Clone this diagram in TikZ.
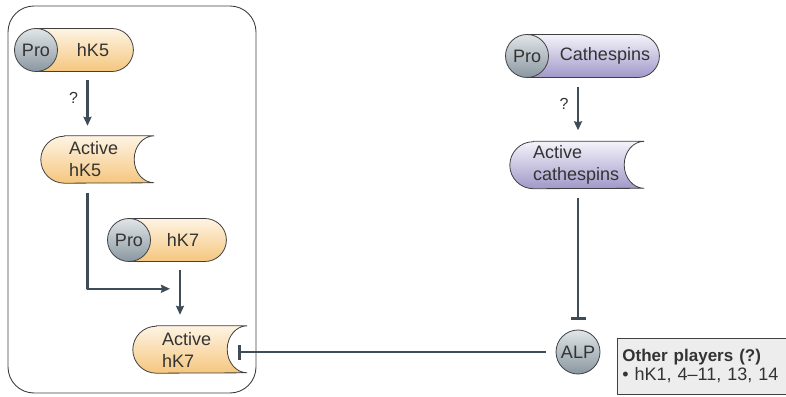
\documentclass[tikz,border=0pt]{standalone}
\usepackage{fontspec}
\setmainfont{Liberation Sans}
\usetikzlibrary{arrows.meta,shapes.misc,calc,backgrounds}
\definecolor{ink}{HTML}{3D4C56}
\definecolor{rim}{HTML}{404040}
\definecolor{txt}{HTML}{333333}
\definecolor{orgtop}{HTML}{FEF4E4}
\definecolor{orgbot}{HTML}{F5C67E}
\definecolor{purtop}{HTML}{F5F3FA}
\definecolor{purbot}{HTML}{A098C9}
\definecolor{protop}{HTML}{E0E5E8}
\definecolor{probot}{HTML}{8A97A0}
\definecolor{boxfill}{HTML}{EDEDED}
% body of an active enzyme: round left end, hollow right end
\newcommand{\activebody}[3]{%
  \path[draw=rim,line width=0.8pt,top color=#2,bottom color=#3]
  ([xshift=23.5pt]#1.north west) -- (#1.north east)
  arc[start angle=90,end angle=270,x radius=20pt,y radius=23.5pt]
  -- ([xshift=23.5pt]#1.south west)
  arc[start angle=270,end angle=90,radius=23.5pt] -- cycle;}
\begin{document}
\begin{tikzpicture}[x=1pt,y=1pt,font=\fontsize{18}{22}\selectfont,line join=round]
	\tikzset{pro/.style={circle,draw=rim,line width=0.8pt,minimum size=43pt,inner sep=0pt,top color=protop,bottom color=probot,text=txt},
		pill/.style={rounded rectangle,rounded rectangle left arc=none,draw=rim,line width=0.8pt,minimum height=43pt,inner sep=0pt,anchor=west},
		active/.style={rectangle,minimum height=47pt,inner ysep=0pt,align=left,text=txt},
		qmark/.style={left=5pt,text=txt,font=\fontsize{16}{18}\selectfont},
		arr/.style={ink,line width=2.5pt,-{Stealth[length=9pt,width=8pt,inset=1pt]}},
		inh/.style={ink,line width=2.5pt,-{Bar[width=15pt,line width=2.5pt]}}}
	\useasboundingbox (0,0) rectangle (786,396);
	\draw[rim,line width=0.9pt,rounded corners=26pt] (8,3) rectangle (256,390);
	% pro-enzymes
	\node[pill,top color=orgtop,bottom color=orgbot,minimum width=97pt] (k5) at (36,346) {};
	\node[pro] (prok5) at (k5.west) {Pro};
	\node[text=txt] (tk5) at (93,346) {hK5};
	\node[pill,top color=orgtop,bottom color=orgbot,minimum width=97pt] (k7) at (129,156) {};
	\node[pro] (prok7) at (k7.west) {Pro};
	\node[text=txt] (tk7) at (183,156) {hK7};
	\node[pill,top color=purtop,bottom color=purbot,minimum width=132pt] (cath) at (527,340) {};
	\node[pro] (procath) at (cath.west) {Pro};
	\node[text=txt] (tcath) at (605,340) {Cathespins};
	% active forms
	\node[active,minimum width=113pt,inner xsep=28pt,text width=57pt] (ak5) at (97.5,236.5) {Active\\hK5};
	\node[active,minimum width=114pt,inner xsep=29pt,text width=56pt] (ak7) at (190,46.5) {Active\\hK7};
	\node[active,minimum width=134pt,inner xsep=23pt,text width=88pt] (acath) at (577,231) {Active\\cathespins};
	\begin{scope}[on background layer]
		\activebody{ak5}{orgtop}{orgbot}
		\activebody{ak7}{orgtop}{orgbot}
		\activebody{acath}{purtop}{purbot}
	\end{scope}
	\node[pro,minimum size=44pt] (alp) at (578,44) {ALP};
	\node[draw=rim,fill=boxfill,line width=0.8pt,anchor=west,align=left,text width=175pt,inner xsep=5pt,inner ysep=4pt,minimum height=56pt,text=txt,font=\fontsize{18}{19}\selectfont] (other) at (617,30) {{\fontsize{17}{19}\selectfont\textbf{Other players (?)}}\\\textbullet\ hK1, 4–11, 13, 14};
	% connectors
	\draw[arr] ($(k5.south -| ak5.north)+(-10,-8)$) -- node[qmark,pos=0.4] (q5) {?} ($(ak5.north)+(-10,10)$);
	\coordinate (mix) at ($(ak7.north)+(-10,37)$);
	\draw[arr] ($(ak5.south)+(-10,-10)$) |- ($(mix)+(-10,0)$);
	\draw[arr] ($(k7.south -| ak7.north)+(-10,-8)$) -- ($(ak7.north)+(-10,11)$);
	\draw[arr] ($(cath.south -| alp.north)+(0,-9)$) -- node[qmark,pos=0.4] (qc) {?} ($(acath.north -| alp.north)+(0,11)$);
	\draw[inh] ($(acath.south -| alp.north)+(0,-9)$) -- ($(alp.north)+(0,10)$);
	\draw[inh] ($(alp.west)+(-10,0)$) -- ($(alp.west -| ak7.east)+(-9,0)$);
\end{tikzpicture}
\end{document}
